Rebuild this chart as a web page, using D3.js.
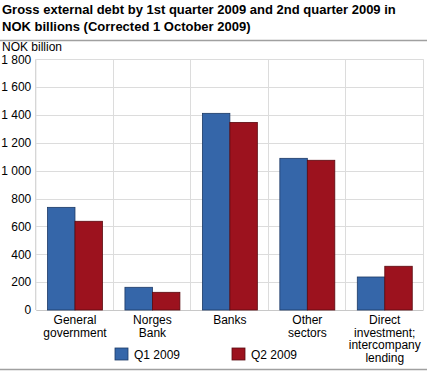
<!DOCTYPE html>
<html>
<head>
<meta charset="utf-8">
<script src="https://cdn.jsdelivr.net/npm/d3@7"></script>
<style>
  body { margin: 0; background: #fff; }
  svg text { font-family: "Liberation Sans", Arial, sans-serif; fill: #000; }
</style>
</head>
<body>
<svg id="chart"></svg>
<script>
const categories = [
  ["General", "government"],
  ["Norges", "Bank"],
  ["Banks"],
  ["Other", "sectors"],
  ["Direct", "investment;", "intercompany", "lending"]
];
const q1 = [737, 163, 1412, 1089, 237];
const q2 = [637, 127, 1347, 1075, 314];
const seriesNames = ["Q1 2009", "Q2 2009"];
const yTicks = [0, 200, 400, 600, 800, 1000, 1200, 1400, 1600, 1800];

const width = 427, height = 371;
const margin = {top: 59.3, right: 3.5, bottom: 61, left: 36.25};
const colors = ["#3566a9", "#9c121e"];
const strokes = ["#1d3a66", "#5a0a10"];

const svg = d3.select("#chart").attr("width", width).attr("height", height);

// title
svg.append("text").attr("x", 2).attr("y", 14)
  .style("font-size", "13px").style("font-weight", "bold")
  .text("Gross external debt by 1st quarter 2009 and 2nd quarter 2009 in");
svg.append("text").attr("x", 2).attr("y", 31)
  .style("font-size", "13px").style("font-weight", "bold")
  .text("NOK billions (Corrected 1 October 2009)");
svg.append("line").attr("x1", 0).attr("x2", width).attr("y1", 40.5).attr("y2", 40.5)
  .attr("stroke", "#a0a0a0").attr("stroke-width", 1.5);
svg.append("line").attr("x1", 0).attr("x2", width).attr("y1", 369.5).attr("y2", 369.5)
  .attr("stroke", "#a0a0a0").attr("stroke-width", 1.5);

svg.append("text").attr("x", 2).attr("y", 51).style("font-size", "12px").text("NOK billion");

const x = d3.scaleBand().domain(d3.range(categories.length))
  .range([margin.left, width - margin.right]);
const y = d3.scaleLinear().domain([0, 1800]).range([height - margin.bottom, margin.top]);

// horizontal grid
svg.append("g").selectAll("line").data(yTicks.slice(1)).enter().append("line")
  .attr("x1", margin.left).attr("x2", width - margin.right)
  .attr("y1", d => Math.round(y(d)) + 0.5).attr("y2", d => Math.round(y(d)) + 0.5)
  .attr("stroke", "#dcdcdc");

// vertical separators
svg.append("g").selectAll("line").data(d3.range(1, categories.length + 1)).enter().append("line")
  .attr("x1", i => Math.round(x(0) + i * x.bandwidth()) - 0.5)
  .attr("x2", i => Math.round(x(0) + i * x.bandwidth()) - 0.5)
  .attr("y1", margin.top).attr("y2", y(0))
  .attr("stroke", "#dcdcdc");

// y axis labels
const yAxis = d3.axisLeft(y).tickValues(yTicks).tickSize(0).tickPadding(5)
  .tickFormat(d => d3.format(",")(d).replace(",", " "));
const ya = svg.append("g").attr("transform", `translate(${margin.left},0)`).call(yAxis);
ya.select(".domain").remove();
ya.attr("font-family", null).attr("font-size", null);
ya.selectAll("text").style("font-size", "12px");

// axis lines
svg.append("line").attr("x1", margin.left - 0.5).attr("x2", margin.left - 0.5)
  .attr("y1", margin.top).attr("y2", y(0)).attr("stroke", "#c8c8c8");
svg.append("line").attr("x1", margin.left).attr("x2", width - margin.right)
  .attr("y1", y(0) + 0.5).attr("y2", y(0) + 0.5).attr("stroke", "#c8c8c8");

// bars
const barW = x.bandwidth() * 55 / 77.5 / 2;
[q1, q2].forEach((vals, s) => {
  svg.append("g").selectAll("rect").data(vals).enter().append("rect")
    .attr("x", (d, i) => x(i) + x.bandwidth() / 2 - barW + s * barW)
    .attr("y", d => y(d))
    .attr("width", barW)
    .attr("height", d => y(0) - y(d))
    .attr("fill", colors[s])
    .attr("stroke", strokes[s]).attr("stroke-width", 0.8);
});

// category labels
categories.forEach((lines, i) => {
  const t = svg.append("text").attr("text-anchor", "middle").style("font-size", "12px")
    .attr("x", x(i) + x.bandwidth() / 2).attr("y", 324);
  lines.forEach((l, k) => {
    t.append("tspan").attr("x", x(i) + x.bandwidth() / 2).attr("dy", k ? 12.7 : 0).text(l);
  });
});

// legend
const legendX = [115, 232];
seriesNames.forEach((n, s) => {
  svg.append("rect").attr("x", legendX[s]).attr("y", 348).attr("width", 13).attr("height", 12)
    .attr("fill", colors[s]).attr("stroke", strokes[s]).attr("stroke-width", 0.8);
  svg.append("text").attr("x", legendX[s] + 19).attr("y", 358.5)
    .style("font-size", "12px").text(n);
});
</script>
</body>
</html>
